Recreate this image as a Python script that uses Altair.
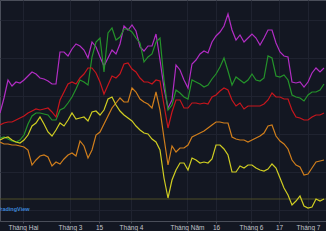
import altair as alt
import pandas as pd

# x: sampling step index (about 1.5 trading sessions per step); ticks sit between steps
tick_pos = [5.75, 17.5, 24.75, 32.75, 46.75, 54, 62.75, 69.75, 77]
tick_labels = ["Tháng Hai", "Tháng 3", "15", "Tháng 4", "Tháng Năm", "16", "Tháng 6", "17", "Tháng 7"]

series_names = ["S1", "S2", "S3", "S4", "S5"]
series_colors = ["#b22dc4", "#24932a", "#c8161d", "#d07e1c", "#cfcd22"]

magenta = [108, 123, 141, 135, 139, 138, 141, 145, 149, 147,
           143, 142, 140, 137, 137, 169, 169, 165, 172, 177,
           175, 171, 163, 179, 174, 164, 155, 163, 171, 167,
           177, 195, 191, 196, 190, 174, 170, 175, 175, 187,
           161, 133, 113, 121, 156, 151, 141, 133, 157, 161,
           167, 170, 168, 179, 185, 189, 195, 207, 191, 181,
           186, 179, 183, 187, 183, 176, 183, 191, 191, 178,
           169, 165, 164, 139, 138, 139, 134, 139, 148, 153,
           149, 153]
green = [83, 84, 82, 80, 79, 81, 86, 97, 105, 108,
         108, 107, 106, 101, 101, 111, 113, 118, 124, 132,
         141, 139, 136, 164, 179, 183, 149, 188, 193, 181,
         184, 192, 192, 189, 183, 178, 159, 164, 167, 179,
         183, 141, 111, 116, 131, 128, 124, 122, 141, 139,
         137, 134, 136, 142, 147, 154, 163, 150, 136, 144,
         141, 138, 141, 147, 141, 140, 143, 165, 163, 145,
         144, 146, 141, 126, 124, 123, 120, 126, 129, 129,
         131, 137]
red = [96, 98, 99, 99, 101, 103, 105, 108, 110, 112,
       111, 112, 113, 109, 104, 121, 129, 137, 139, 137,
       143, 147, 153, 153, 148, 139, 127, 136, 145, 143,
       147, 157, 158, 152, 149, 143, 139, 139, 137, 141,
       140, 116, 93, 109, 121, 121, 113, 113, 118, 118,
       117, 118, 117, 124, 126, 130, 133, 131, 121, 115,
       118, 112, 115, 115, 115, 115, 117, 121, 128, 124,
       124, 122, 122, 111, 104, 103, 101, 101, 104, 106,
       106, 108]
orange = [79, 77, 77, 76, 76, 75, 74, 71, 56, 61,
          65, 66, 64, 55, 59, 57, 62, 66, 68, 65,
          80, 75, 63, 71, 86, 89, 97, 105, 113, 118,
          123, 119, 119, 133, 129, 122, 119, 117, 113, 129,
          111, 83, 56, 75, 69, 73, 73, 76, 84, 86,
          88, 90, 93, 96, 99, 99, 98, 98, 84, 82,
          81, 81, 79, 81, 83, 85, 88, 95, 96, 85,
          80, 77, 72, 61, 56, 54, 46, 47, 53, 59,
          60, 61]
yellow = [81, 83, 84, 81, 79, 78, 81, 86, 95, 98,
          104, 97, 89, 85, 91, 98, 95, 101, 108, 102,
          103, 104, 100, 109, 110, 106, 111, 122, 124, 116,
          110, 106, 103, 100, 95, 91, 88, 87, 82, 79,
          71, 43, 23, 41, 51, 58, 58, 51, 63, 61,
          58, 59, 58, 62, 76, 76, 72, 66, 49, 49,
          55, 53, 56, 56, 53, 51, 50, 52, 57, 53,
          43, 33, 26, 16, 20, 25, 15, 13, 14, 22,
          20, 22]

hgrid = [11, 30, 49, 68, 87, 106, 125, 144, 163, 182, 201]

rows = []
for name, vals in zip(series_names, [magenta, green, red, orange, yellow]):
    for i, v in enumerate(vals):
        rows.append({"t": i, "value": v, "series": name})
df = pd.DataFrame(rows)

label_expr = " : ".join(
    f"datum.value == {p} ? '{l}'" for p, l in zip(tick_pos, tick_labels)
) + " : ''"

x_enc = alt.X(
    "t:Q",
    scale=alt.Scale(domain=[0, 81.5], nice=False, zero=False),
    axis=alt.Axis(
        values=tick_pos, labelExpr=label_expr, title=None,
        grid=True, gridColor="#1f2330", gridWidth=1,
        domainColor="#4a4e59", tickColor="#4a4e59", tickSize=2,
        labelColor="#c3c5cc", labelFontSize=6.5, labelFont="Liberation Sans",
        labelPadding=1, labelFlush=False, labelOverlap=False,
    ),
)
y_enc = alt.Y(
    "value:Q",
    scale=alt.Scale(domain=[0, 221], nice=False, zero=False),
    axis=alt.Axis(values=hgrid, labels=False, ticks=False, domain=False,
                  title=None, grid=True, gridColor="#1f2330"),
)

lines = alt.Chart(df).mark_line(strokeWidth=1.2, clip=True).encode(
    x=x_enc,
    y=y_enc,
    color=alt.Color("series:N", scale=alt.Scale(domain=series_names, range=series_colors), legend=None),
)

price_line = alt.Chart(pd.DataFrame({"value": [yellow[-1]]})).mark_rule(
    color="#4f4f26", strokeWidth=1
).encode(y=alt.Y("value:Q"))

logo = alt.Chart(pd.DataFrame({"label": ["TradingView"]})).mark_text(
    text="TradingView", align="right", baseline="middle", fontSize=5.5,
    fontWeight="bold", font="Liberation Sans", color="#3b86d8", clip=True
).encode(x=alt.value(29.5), y=alt.value(209))

chart = alt.layer(price_line, lines, logo).properties(
    width=326, height=221,
    padding={"left": 0, "top": 0, "right": 0, "bottom": 10},
    autosize=alt.AutoSizeParams(type="none"),
    background="#131722",
).configure_view(stroke="#4a4e59", strokeWidth=1)

chart.save("out.html", embed_options={"renderer": "svg", "actions": False})
